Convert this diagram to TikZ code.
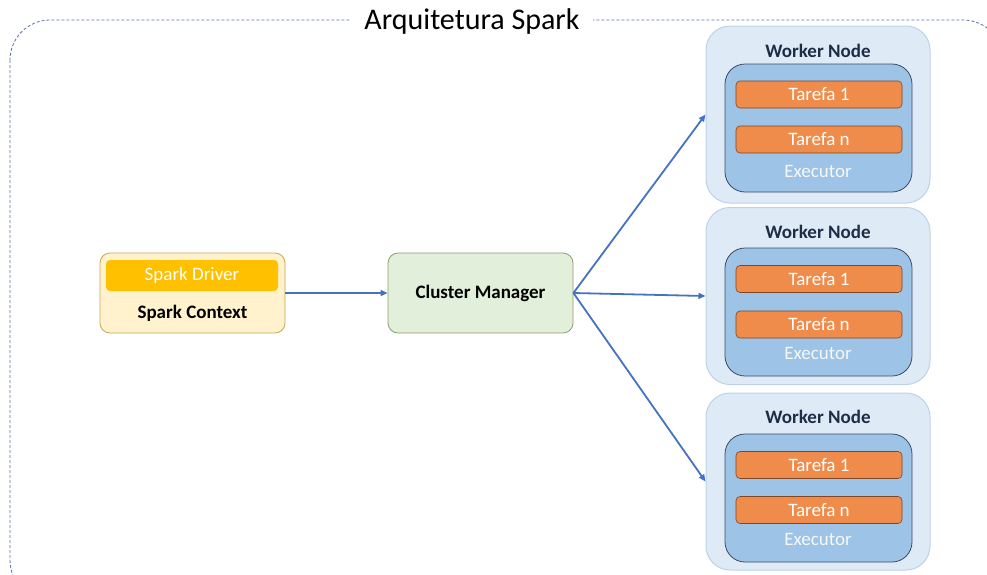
\documentclass[tikz,border=0pt]{standalone}
\usepackage{fontspec}
\setmainfont{Carlito}
\usetikzlibrary{arrows.meta}
\definecolor{framecol}{RGB}{90,115,170}
\definecolor{ctxfill}{RGB}{255,242,204}
\definecolor{ctxline}{RGB}{196,166,84}
\definecolor{drvfill}{RGB}{255,192,0}
\definecolor{cmfill}{RGB}{226,239,218}
\definecolor{cmline}{RGB}{134,160,110}
\definecolor{wrkfill}{RGB}{222,235,247}
\definecolor{wrkline}{RGB}{188,210,234}
\definecolor{exefill}{RGB}{157,195,230}
\definecolor{exeline}{RGB}{60,75,100}
\definecolor{taskfill}{RGB}{240,140,75}
\definecolor{taskline}{RGB}{130,70,35}
\definecolor{wrktext}{RGB}{30,45,70}
\definecolor{flowcol}{RGB}{68,114,196}
\tikzset{
  frame/.style={draw=framecol, line width=0.8pt, dash pattern=on 3pt off 2pt,
                rounded corners=40pt},
  ctxbox/.style={draw=ctxline, fill=ctxfill, line width=0.8pt, rounded corners=10pt,
                 minimum width=185pt, minimum height=80pt, inner sep=0pt},
  drvbox/.style={fill=drvfill, rounded corners=4pt, text=white, inner sep=0pt,
                 minimum width=172pt, minimum height=31pt,
                 font=\fontsize{19}{22}\selectfont},
  cmbox/.style={draw=cmline, fill=cmfill, line width=0.8pt, rounded corners=10pt,
                minimum width=185pt, minimum height=80pt, inner sep=0pt,
                font=\bfseries\fontsize{19}{22}\selectfont},
  wrkbox/.style={draw=wrkline, fill=wrkfill, line width=1pt, rounded corners=24pt,
                 minimum width=224pt, minimum height=177pt, inner sep=0pt},
  exebox/.style={draw=exeline, fill=exefill, line width=0.8pt, rounded corners=20pt,
                 minimum width=187pt, minimum height=128pt, inner sep=0pt},
  taskbox/.style={draw=taskline, fill=taskfill, line width=0.6pt, rounded corners=4pt,
                  minimum width=166pt, minimum height=27pt, inner sep=0pt, text=white,
                  font=\fontsize{19}{22}\selectfont},
  wrklbl/.style={font=\bfseries\fontsize{19}{22}\selectfont, text=wrktext},
  exelbl/.style={font=\fontsize{19}{22}\selectfont, text=white!97!black},
  flow/.style={draw=flowcol, line width=1.8pt, -{Triangle[length=7pt,width=6pt]}},
}
\begin{document}
\begin{tikzpicture}[x=1pt, y=-1pt]
\clip (0,0) rectangle (987,574);

%% Outer frame and title
\draw[frame] (10,20) rectangle (1003,600);
\node[fill=white, inner xsep=13pt, inner ysep=2pt,
      font=\fontsize{30}{35}\selectfont] (title) at (472,21) {Arquitetura Spark};

%% == DRIVER ==================================================================
\node[ctxbox] (ctx) at (192.5,293) {};
\node[drvbox] (drv) at (192,275.5) {Spark Driver};
\node[font=\bfseries\fontsize{19}{22}\selectfont] (ctxlbl) at (192.5,313) {Spark Context};

%% == CLUSTER MANAGER =========================================================
\node[cmbox] (cm) at (480.5,293) {Cluster Manager};

%% == WORKERS =================================================================
% Worker 1 (top)
\node[wrkbox]  (w1)    at (818,114.5) {};
\node[wrklbl]  (w1lbl) at (818,51)    {Worker Node};
\node[exebox]  (e1)    at (818.5,128) {};
\node[taskbox] (t1a)   at (819,94.5)  {Tarefa 1};
\node[taskbox] (t1n)   at (819,139.5) {Tarefa n};
\node[exelbl]  (e1lbl) at (818,171)   {Executor};

% Worker 2 (middle)
\node[wrkbox]  (w2)    at (818,296)   {};
\node[wrklbl]  (w2lbl) at (818,232)   {Worker Node};
\node[exebox]  (e2)    at (818.5,312) {};
\node[taskbox] (t2a)   at (819,279)   {Tarefa 1};
\node[taskbox] (t2n)   at (819,324.5) {Tarefa n};
\node[exelbl]  (e2lbl) at (818,353)   {Executor};

% Worker 3 (bottom)
\node[wrkbox]  (w3)    at (818,481.5) {};
\node[wrklbl]  (w3lbl) at (818,417)   {Worker Node};
\node[exebox]  (e3)    at (818.5,498) {};
\node[taskbox] (t3a)   at (819,465)   {Tarefa 1};
\node[taskbox] (t3n)   at (819,510)   {Tarefa n};
\node[exelbl]  (e3lbl) at (818,539)   {Executor};

%% == CONNECTORS ==============================================================
\draw[flow] (ctx.east) -- (cm.west);
\draw[flow] (cm.east) -- (w1.west);
\draw[flow] (cm.east) -- (w2.west);
\draw[flow] (cm.east) -- (w3.west);
\end{tikzpicture}
\end{document}
